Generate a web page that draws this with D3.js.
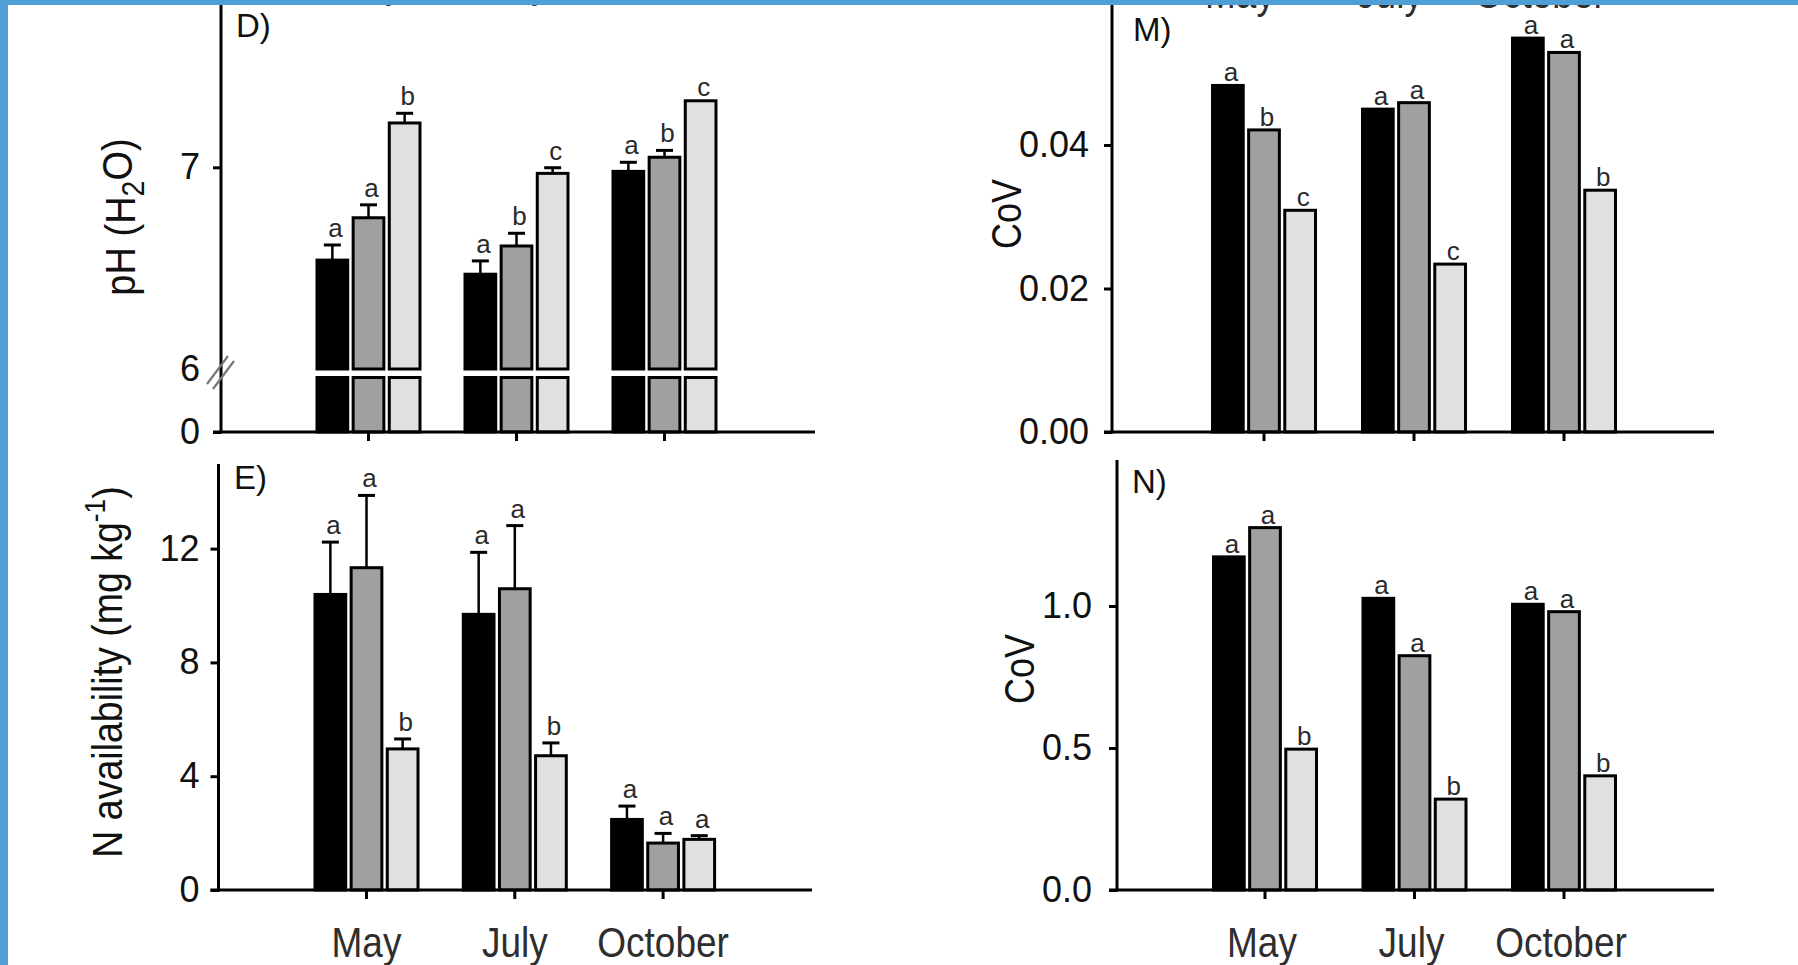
<!DOCTYPE html>
<html><head><meta charset="utf-8">
<script src="https://cdn.jsdelivr.net/npm/d3@7"></script>
<style>
html,body{margin:0;padding:0;background:#fff;overflow:hidden;}
svg{display:block;}
text{font-family:"Liberation Sans",Arial,sans-serif;}
</style></head><body>
<svg id="c" width="1798" height="965"></svg>
<script>
// ---------- data ----------
const months = ["May", "July", "October"];
const seriesNames = ["Series 1", "Series 2", "Series 3"];

// D) pH (H2O)
const phS1 = [6.54, 6.47, 6.98];
const phS2 = [6.75, 6.61, 7.05];
const phS3 = [7.22, 6.97, 7.33];
const phErrS1 = [0.075, 0.066, 0.045];
const phErrS2 = [0.064, 0.063, 0.034];
const phErrS3 = [0.048, 0.028, 0];
const phLetters = [["a", "a", "b"], ["a", "b", "c"], ["a", "b", "c"]];
const phTicks = [0, 6, 7];

// M) CoV of pH
const covPhS1 = [0.0483, 0.0450, 0.0549];
const covPhS2 = [0.0421, 0.0459, 0.0529];
const covPhS3 = [0.0309, 0.0234, 0.0337];
const covPhLetters = [["a", "b", "c"], ["a", "a", "c"], ["a", "a", "b"]];
const covPhTicks = [0, 0.02, 0.04];

// E) N availability (mg kg-1)
const nS1 = [10.39, 9.69, 2.48];
const nS2 = [11.33, 10.59, 1.65];
const nS3 = [4.96, 4.72, 1.78];
const nErrS1 = [1.84, 2.18, 0.47];
const nErrS2 = [2.54, 2.22, 0.34];
const nErrS3 = [0.35, 0.45, 0.13];
const nLetters = [["a", "a", "b"], ["a", "a", "b"], ["a", "a", "a"]];
const nTicks = [0, 4, 8, 12];

// N) CoV of N availability
const covNS1 = [1.173, 1.027, 1.006];
const covNS2 = [1.276, 0.825, 0.980];
const covNS3 = [0.496, 0.320, 0.402];
const covNLetters = [["a", "a", "b"], ["a", "a", "b"], ["a", "a", "b"]];
const covNTicks = [0, 0.5, 1.0];

// ---------- style ----------
const fills = ["#000000", "#a0a0a0", "#e0e0e0"];
const INK = "#111";
const svg = d3.select("#c");

function rows(s1, s2, s3, e1, e2, e3, letters) {
  return months.map((m, i) => ({
    month: m,
    bars: [s1[i], s2[i], s3[i]].map((v, k) => ({
      k, v,
      e: e1 ? [e1[i], e2[i], e3[i]][k] : 0,
      letter: letters[i][k]
    }))
  }));
}

function drawPanel(p) {
  const g = svg.append("g");
  const x = d3.scaleBand().domain(months)
    .range([p.c1 - p.step, p.c1 + 3 * p.step]).paddingOuter(0.5).paddingInner(0);
  const xs = d3.scaleBand().domain(d3.range(3)).range([-51.5, 51.5]).paddingInner(0.15);
  const y = p.y;
  const data = p.data;

  const grp = g.selectAll("g.grp").data(data).join("g")
    .attr("transform", d => `translate(${x(d.month) + x.bandwidth() / 2},0)`);
  grp.selectAll("rect.bar").data(d => d.bars).join("rect")
    .attr("x", d => xs(d.k)).attr("width", xs.bandwidth())
    .attr("y", d => y(d.v))
    .attr("height", d => p.barBottom - y(d.v))
    .attr("fill", d => fills[d.k]).attr("stroke", "#000").attr("stroke-width", 3);
  if (p.yLow) {
    grp.selectAll("rect.low").data(d => d.bars).join("rect")
      .attr("x", d => xs(d.k)).attr("width", xs.bandwidth())
      .attr("y", p.yLow(6)).attr("height", p.yLow(0) - p.yLow(6))
      .attr("fill", d => fills[d.k]).attr("stroke", "#000").attr("stroke-width", 3);
  }
  const eb = grp.selectAll("g.eb").data(d => d.bars.filter(b => b.e > 0)).join("g");
  eb.append("line")
    .attr("x1", d => xs(d.k) + xs.bandwidth() / 2).attr("x2", d => xs(d.k) + xs.bandwidth() / 2)
    .attr("y1", d => y(d.v)).attr("y2", d => y(d.v + d.e))
    .attr("stroke", "#000").attr("stroke-width", 2.5);
  eb.append("line")
    .attr("x1", d => xs(d.k) + xs.bandwidth() / 2 - 8.5).attr("x2", d => xs(d.k) + xs.bandwidth() / 2 + 8.5)
    .attr("y1", d => y(d.v + d.e)).attr("y2", d => y(d.v + d.e))
    .attr("stroke", "#000").attr("stroke-width", 3);
  grp.selectAll("text.let").data(d => d.bars).join("text")
    .attr("x", d => xs(d.k) + xs.bandwidth() / 2 + 3)
    .attr("y", d => y(d.v + d.e) - (d.e > 0 ? p.gapE : p.gap))
    .attr("text-anchor", "middle").attr("font-size", 26).attr("fill", "#2a2a2a")
    .text(d => d.letter);

  g.append("line").attr("x1", p.axisX).attr("x2", p.axisX)
    .attr("y1", p.top).attr("y2", p.baseline + 1.5)
    .attr("stroke", "#000").attr("stroke-width", 3);
  g.append("line").attr("x1", p.axisX - 8).attr("x2", p.xEnd)
    .attr("y1", p.baseline).attr("y2", p.baseline)
    .attr("stroke", "#000").attr("stroke-width", 3);
  const xa = g.append("g").attr("transform", `translate(0,${p.baseline})`)
    .call(d3.axisBottom(x).tickSize(9).tickSizeOuter(0).tickFormat(""));
  xa.select(".domain").remove();
  xa.selectAll(".tick line").attr("stroke", "#000").attr("stroke-width", 3);

  p.yAxes.forEach(a => {
    const ya = g.append("g").attr("transform", `translate(${p.axisX},0)`)
      .call(d3.axisLeft(a.scale).tickValues(a.ticks).tickSize(8).tickPadding(p.pad).tickFormat(a.fmt));
    ya.select(".domain").remove();
    ya.selectAll(".tick line").attr("stroke", "#000").attr("stroke-width", 3)
      .attr("display", d => (a.noLine && a.noLine.includes(d)) ? "none" : null);
    ya.selectAll(".tick text").attr("font-size", 36).attr("fill", INK)
      .attr("font-family", '"Liberation Sans", Arial, sans-serif');
  });

  g.append("text").attr("x", p.lab[0]).attr("y", p.lab[1])
    .attr("font-size", 33).attr("fill", INK).text(p.label);

  const t = g.append("text")
    .attr("transform", `translate(${p.title[0]},${p.title[1]}) rotate(-90) scale(1,${p.title[2]})`)
    .attr("text-anchor", "middle").attr("font-size", p.title[3]).attr("fill", INK);
  p.titleFn(t);

  p.monthRows.forEach(r => {
    months.forEach(m => {
      g.append("text")
        .attr("transform", `translate(${x(m) + x.bandwidth() / 2 + r.dx},${r.y}) scale(1,1.15)`)
        .attr("text-anchor", "middle").attr("font-size", 37).attr("fill", "#2e2e2e")
        .text(m);
    });
  });
}

// ---- D) ----
const yUp = d3.scaleLinear().domain([6, 7.8]).range([369, 6]);
const yLow = d3.scaleLinear().domain([0, 6]).range([432, 377.5]);
drawPanel({
  data: rows(phS1, phS2, phS3, phErrS1, phErrS2, phErrS3, phLetters),
  y: yUp, yLow: yLow, barBottom: yUp(6),
  axisX: 221, xEnd: 815, c1: 368.5, step: 148, baseline: 432, top: 0,
  gap: 5, gapE: 8, pad: 13,
  yAxes: [
    { scale: yUp, ticks: phTicks.filter(v => v >= 6), fmt: d3.format("d"), noLine: [6] },
    { scale: yLow, ticks: phTicks.filter(v => v < 6), fmt: d3.format("d") }
  ],
  label: "D)", lab: [236, 37],
  title: [135, 217, 1.1, 38],
  titleFn: t => { t.append("tspan").text("pH (H");
    t.append("tspan").attr("font-size", "75%").attr("dy", "0.3em").text("2");
    t.append("tspan").attr("dy", "-0.3em").text("O)"); },
  monthRows: [{ y: -3, dx: 0 }]
});
svg.append("g").selectAll("line").data([0, 1]).join("line")
  .attr("x1", d => 207 + d * 6).attr("y1", d => 384 + d * 5)
  .attr("x2", d => 228 + d * 6).attr("y2", d => 356 + d * 5)
  .attr("stroke", "#777").attr("stroke-width", 2.2);

// ---- M) ----
const yM = d3.scaleLinear().domain([0, 0.06]).range([432, 1.5]);
drawPanel({
  data: rows(covPhS1, covPhS2, covPhS3, null, null, null, covPhLetters),
  y: yM, barBottom: 432,
  axisX: 1112, xEnd: 1714, c1: 1264, step: 150, baseline: 432, top: 0,
  gap: 4, gapE: 8, pad: 15,
  yAxes: [{ scale: yM, ticks: covPhTicks, fmt: d3.format(".2f") }],
  label: "M)", lab: [1133, 41],
  title: [1021, 214, 1.2, 36],
  titleFn: t => t.text("CoV"),
  monthRows: [{ y: 8, dx: -24 }]
});

// ---- E) ----
const yE = d3.scaleLinear().domain([0, 15]).range([890, 463.3]);
drawPanel({
  data: rows(nS1, nS2, nS3, nErrS1, nErrS2, nErrS3, nLetters),
  y: yE, barBottom: 890,
  axisX: 218.5, xEnd: 812, c1: 366.5, step: 148.3, baseline: 890, top: 464,
  gap: 5, gapE: 8, pad: 11,
  yAxes: [{ scale: yE, ticks: nTicks, fmt: d3.format("d") }],
  label: "E)", lab: [234, 489],
  title: [122, 672, 1.15, 37.5],
  titleFn: t => { t.append("tspan").text("N availability (mg kg");
    t.append("tspan").attr("font-size", "70%").attr("dy", "-0.55em").text("-1");
    t.append("tspan").attr("dy", "0.4em").text(")"); },
  monthRows: [{ y: 957, dx: 0 }]
});

// ---- N) ----
const yN = d3.scaleLinear().domain([0, 1.5]).range([890, 464]);
drawPanel({
  data: rows(covNS1, covNS2, covNS3, null, null, null, covNLetters),
  y: yN, barBottom: 890,
  axisX: 1117, xEnd: 1714, c1: 1265, step: 149.5, baseline: 890, top: 460,
  gap: 4, gapE: 8, pad: 17,
  yAxes: [{ scale: yN, ticks: covNTicks, fmt: d3.format(".1f") }],
  label: "N)", lab: [1132, 493],
  title: [1034, 669, 1.2, 36],
  titleFn: t => t.text("CoV"),
  monthRows: [{ y: 957, dx: -3 }]
});

svg.append("rect").attr("x", 0).attr("y", 0).attr("width", 1798).attr("height", 5).attr("fill", "#4e9fd5");
svg.append("rect").attr("x", 0).attr("y", 0).attr("width", 8).attr("height", 965).attr("fill", "#4e9fd5");
</script>
</body></html>
